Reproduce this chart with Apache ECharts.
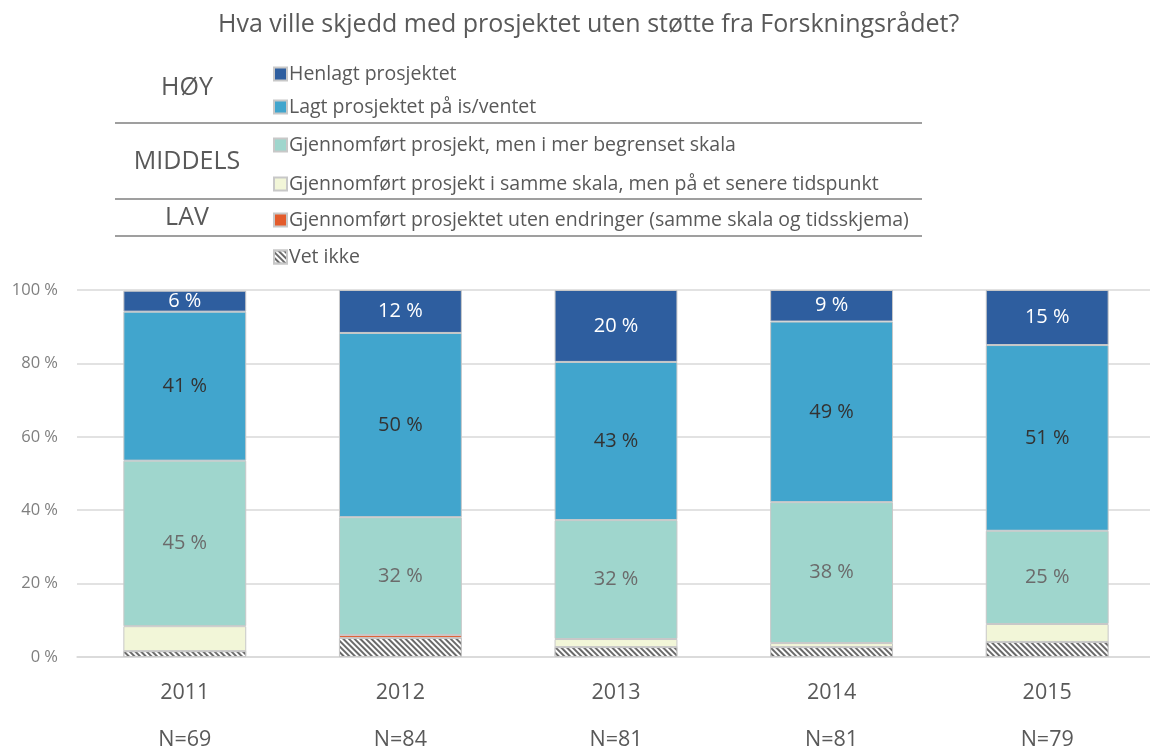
<!DOCTYPE html>
<html><head><meta charset="utf-8">
<script src="https://cdn.jsdelivr.net/npm/echarts@6/dist/echarts.min.js"></script>
<style>html,body{margin:0;padding:0;background:#fff}#c{width:1150px;height:749px}</style>
</head><body><div id="c"></div>
<script>
const years = ['2011','2012','2013','2014','2015'];
const nLabels = ['N=69','N=84','N=81','N=81','N=79'];
const yTicks = [0,20,40,60,80,100];
const seriesNames = [
  'Henlagt prosjektet',
  'Lagt prosjektet på is/ventet',
  'Gjennomført prosjekt, men i mer begrenset skala',
  'Gjennomført prosjekt i samme skala, men på et senere tidspunkt',
  'Gjennomført prosjektet uten endringer (samme skala og tidsskjema)',
  'Vet ikke'
];
const henlagt   = [5.7, 11.7, 19.6, 8.6, 15.0];
const lagt      = [40.6, 50.2, 43.1, 49.2, 50.6];
const begrenset = [45.1, 32.1, 32.4, 38.4, 25.4];
const senere    = [6.8, 0, 2.2, 1.1, 4.9];
const uendret   = [0, 0.8, 0, 0, 0];
const vetIkke   = [1.6, 5.2, 2.7, 2.7, 4.1];

const FONT = "'Open Sans',sans-serif";
const colors = ['#2E5E9F','#41A5CD','#9FD6CD','#F2F6D8','#E35B2B','#ffffff'];
const border = {borderColor:'#c8c8c8', borderWidth:1};

function mk(name, data, color, labelColor, extra){
  return Object.assign({
    name, type:'bar', stack:'s', data, barWidth:'57%',
    itemStyle:Object.assign({color}, border),
    label: labelColor ? {show:true, position:'inside', color:labelColor, fontSize:20, fontFamily:FONT,
      formatter:p=>Math.round(p.value)+' %'} : {show:false},
    emphasis:{disabled:true}
  }, extra||{});
}

const series = [
  mk(seriesNames[5], vetIkke, colors[5], null, {itemStyle:Object.assign({color:'#ffffff', decal:{symbol:'rect', color:'#6a6a6a', dashArrayX:[1,0], dashArrayY:[1.2,2], rotation:Math.PI/4, symbolSize:1}}, border)}),
  mk(seriesNames[4], uendret, colors[4], null),
  mk(seriesNames[3], senere, colors[3], null),
  mk(seriesNames[2], begrenset, colors[2], '#6b6b6b'),
  mk(seriesNames[1], lagt, colors[1], '#333333'),
  mk(seriesNames[0], henlagt, colors[0], '#ffffff')
];

const legendTops = [59, 92, 130, 169, 205, 242];
const legends = seriesNames.map((n,i)=>({
  data:[n], left:268, top:legendTops[i], orient:'vertical', icon:'rect',
  itemWidth:13, itemHeight:13, itemGap:4, selectedMode:false,
  textStyle:{fontSize:19.5, color:'#595959', fontFamily:FONT, padding:[0,0,0,-3]}
}));

const gLine = (y)=>({type:'line', shape:{x1:115,y1:y,x2:922,y2:y}, style:{stroke:'#7f7f7f', lineWidth:1.5}});
const gText = (t,y)=>({type:'text', x:187, y:y, style:{text:t, fontSize:25, fill:'#595959', fontFamily:FONT, align:'center', verticalAlign:'middle'}});

const option = {
  animation:false,
  title:{text:'Hva ville skjedd med prosjektet uten støtte fra Forskningsrådet?', left:213, top:7,
    textStyle:{fontSize:25, fontWeight:'normal', color:'#595959', fontFamily:FONT}},
  legend: legends,
  graphic:[ gText('HØY',88), gText('MIDDELS',162), gText('LAV',218), gLine(123), gLine(199), gLine(236) ],
  grid:{left:77, top:290, width:1078, height:367, containLabel:false, outerBoundsMode:'none'},
  xAxis:{type:'category', data:years,
    axisLine:{lineStyle:{color:'#d9d9d9', width:1.5}}, axisTick:{show:false},
    axisLabel:{color:'#595959', fontSize:21.5, fontFamily:FONT, margin:12, lineHeight:47,
      formatter:(v,i)=>v+'\n'+nLabels[i]}},
  yAxis:{type:'value', min:0, max:100, interval:20,
    axisLabel:{color:'#7f7f7f', fontSize:16.5, fontFamily:FONT, margin:19, formatter:v=>v+' %'},
    splitLine:{lineStyle:{color:'#d9d9d9', width:1.5}}, axisLine:{show:false}, axisTick:{show:false}},
  series
};
const chart = echarts.init(document.getElementById('c'), null, {renderer:'canvas'});
chart.setOption(option);
</script></body></html>
